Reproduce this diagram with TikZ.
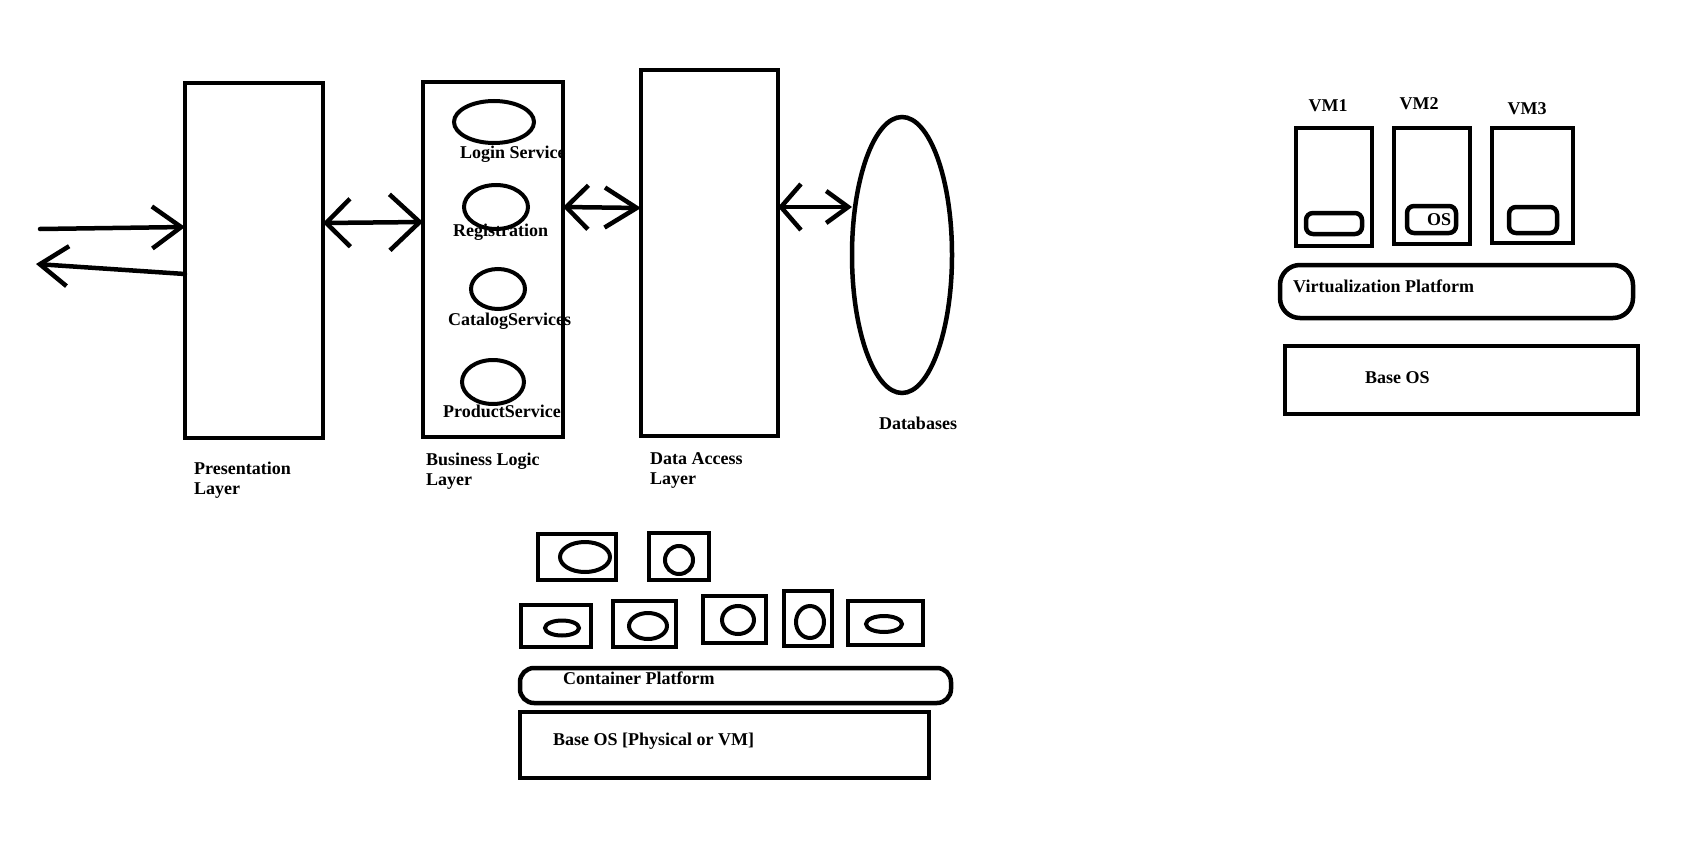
\documentclass[tikz,border=0pt]{standalone}
\usepackage{fontspec}
\setmainfont{Liberation Serif}
\usetikzlibrary{arrows.meta,shapes.geometric}
\begin{document}
\begin{tikzpicture}[x=1pt,y=-1pt,
  box/.style={draw, line width=4.5pt, inner sep=0pt, outer sep=0pt},
  svc/.style={draw, ellipse, line width=4pt, inner sep=0pt, outer sep=0pt},
  osbox/.style={draw, rounded corners=7pt, line width=4.5pt, inner sep=0pt, outer sep=0pt},
  lbl/.style={font=\fontsize{18}{20}\selectfont\bfseries, inner sep=0pt, align=left},
  arr/.style={line width=4.5pt, line cap=round, line join=round}]
\useasboundingbox (0,0) rectangle (1687,867);
\fill[white] (0,0) rectangle (1687,867);

% service labels (under the box lines)
\node[lbl, anchor=base west] (tlogin) at (460,158) {Login Service};
\node[lbl, anchor=base west] (treg) at (453,236) {Registration};
\node[lbl, anchor=base west] (tcat) at (448,325) {CatalogServices};
\node[lbl, anchor=base west] (tprod) at (443,417) {ProductService};

% layers
\node[box, minimum width=138pt, minimum height=355pt] (pres) at (254,260.5) {};
\node[box, minimum width=140pt, minimum height=355pt] (bl) at (493,259.5) {};
\node[box, minimum width=137pt, minimum height=366pt] (da) at (709.5,253) {};
\node[box, ellipse, minimum width=100pt, minimum height=276pt] (db) at (902,255) {};

% services
\node[svc, minimum width=80pt, minimum height=42pt] (login) at (494,122) {};
\node[svc, minimum width=64pt, minimum height=44pt] (reg) at (496,207) {};
\node[svc, minimum width=54pt, minimum height=40pt] (cat) at (498,289) {};
\node[svc, minimum width=62pt, minimum height=44pt] (prod) at (493,382) {};

% layer labels
\node[lbl, anchor=north west] (tpres) at (194,462) {Presentation\\Layer};
\node[lbl, anchor=north west] (tbl) at (426,453) {Business Logic\\Layer};
\node[lbl, anchor=north west] (tda) at (650,452) {Data Access\\Layer};
\node[lbl, anchor=base] (tdb) at (918,429) {Databases};

% connectors
\coordinate (in1) at (40,229);
\coordinate (out1) at (36,264);
\draw[arr, -{Straight Barb[length=29pt,width=42pt]}] (in1) -- (pres.west |- 0,227);
\draw[arr, -{Straight Barb[length=28pt,width=40pt]}] (pres.west |- 0,274) -- (out1);
\draw[arr, {Straight Barb[length=24pt,width=48pt]}-{Straight Barb[length=30pt,width=56pt]}] (pres.east |- 0,223) -- (bl.west |- 0,222);
\draw[arr, {Straight Barb[length=22pt,width=44pt]}-{Straight Barb[length=32pt,width=40pt]}] (bl.east |- 0,207) -- (da.west |- 0,208);
\draw[arr, {Straight Barb[length=20pt,width=46pt]}-{Straight Barb[length=22pt,width=32pt]}] (da.east |- 0,207) -- (db.west |- 0,207);

% virtualization
\node[box, minimum width=76pt, minimum height=118pt] (vm1) at (1334,187) {};
\node[box, minimum width=76pt, minimum height=116pt] (vm2) at (1432,186) {};
\node[box, minimum width=81pt, minimum height=115pt] (vm3) at (1532.5,185.5) {};
\node[osbox, minimum width=56pt, minimum height=21pt] (os1) at (1334,223.5) {};
\node[osbox, minimum width=49pt, minimum height=27pt] (os2) at (1431.5,219.5) {};
\node[osbox, minimum width=48pt, minimum height=26pt] (os3) at (1533,220) {};
\node[lbl, anchor=base] (tos) at (1439,225) {OS};
\node[lbl, anchor=base] (tvm1) at (1328,111) {VM1};
\node[lbl, anchor=base] (tvm2) at (1419,109) {VM2};
\node[lbl, anchor=base] (tvm3) at (1527,114) {VM3};
\node[box, rounded corners=20pt, minimum width=353pt, minimum height=53pt] (virt) at (1456.5,291.5) {};
\node[lbl, anchor=base west] (tvirt) at (1293,292) {Virtualization Platform};
\node[box, minimum width=353pt, minimum height=68pt] (baseos) at (1461.5,380) {};
\node[lbl, anchor=base west] (tbaseos) at (1365,383) {Base OS};

% containers
\node[box, minimum width=78pt, minimum height=46pt] (c1) at (577,557) {};
\node[svc, minimum width=50pt, minimum height=30pt] (e1) at (585,557) {};
\node[box, minimum width=60pt, minimum height=47pt] (c2) at (679,556.5) {};
\node[svc, minimum width=28pt, minimum height=28pt] (e2) at (679,560) {};
\node[box, minimum width=70pt, minimum height=42pt] (c3) at (556,626) {};
\node[svc, minimum width=34pt, minimum height=15pt] (e3) at (562,628) {};
\node[box, minimum width=63pt, minimum height=46pt] (c4) at (644.5,624) {};
\node[svc, minimum width=38pt, minimum height=26pt] (e4) at (648,626) {};
\node[box, minimum width=63pt, minimum height=47pt] (c5) at (734.5,619.5) {};
\node[svc, minimum width=32pt, minimum height=28pt] (e5) at (738,620) {};
\node[box, minimum width=48pt, minimum height=55pt] (c6) at (808,618.5) {};
\node[svc, minimum width=28pt, minimum height=32pt] (e6) at (810,622) {};
\node[box, minimum width=75pt, minimum height=44pt] (c7) at (885.5,623) {};
\node[svc, minimum width=36pt, minimum height=16pt] (e7) at (884,624) {};
\node[box, rounded corners=14pt, minimum width=431pt, minimum height=35pt] (cplat) at (735.5,685.5) {};
\node[lbl, anchor=base west] (tcplat) at (563,684) {Container Platform};
\node[box, minimum width=409pt, minimum height=66pt] (cbase) at (724.5,745) {};
\node[lbl, anchor=base west] (tcbase) at (553,745) {Base OS [Physical or VM]};
\end{tikzpicture}
\end{document}
